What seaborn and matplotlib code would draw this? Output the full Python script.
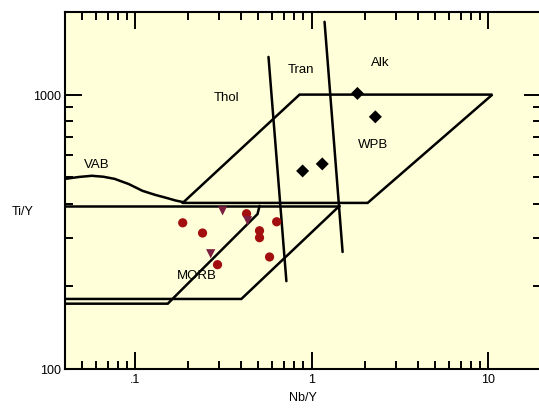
import numpy as np
import pandas as pd
import matplotlib
matplotlib.use("Agg")
import matplotlib.pyplot as plt
import matplotlib.ticker as mticker
import seaborn as sns

sns.set_style("ticks")
plt.rcParams["font.family"] = ["Liberation Sans", "DejaVu Sans"]
plt.rcParams["text.color"] = "black"
plt.rcParams["axes.labelcolor"] = "black"
plt.rcParams["xtick.color"] = "black"
plt.rcParams["ytick.color"] = "black"

# sample data (Nb/Y, Ti/Y)
morb_x = [0.186, 0.241, 0.428, 0.634, 0.507, 0.507, 0.578, 0.293]
morb_y = [341, 313, 368, 344, 319, 301, 256, 240]
tri_x = [0.313, 0.434, 0.268]
tri_y = [377, 347, 263]
wpb_x = [1.82, 2.30, 1.15, 0.89]
wpb_y = [1010, 830, 559, 527]

# field boundaries
vab_x = [0.04, 0.048, 0.0567, 0.066, 0.0765, 0.092, 0.110, 0.130, 0.151, 0.170, 0.186]
vab_y = [493, 501, 506, 502, 493, 472, 446, 431, 420, 411, 406]
wpb_box_x = [0.186, 0.855, 10.6, 2.08, 0.186]
wpb_box_y = [403, 1000, 1000, 403, 403]
base_x = [0.04, 1.44]
base_y = [393, 393]
morb_out_x = [0.04, 0.40, 1.44]
morb_out_y = [180, 180, 393]
morb_in_x = [0.04, 0.153, 0.494, 0.507]
morb_in_y = [173, 173, 367, 393]
thol_x = [0.57, 0.72]
thol_y = [1372, 209]
alk_x = [1.185, 1.50]
alk_y = [1842, 267]

labels = ["VAB", "Thol", "Tran", "Alk", "WPB", "MORB"]
label_x = [0.0605, 0.33, 0.866, 2.46, 2.22, 0.223]
label_y = [559, 981, 1241, 1315, 661, 220]

df = pd.DataFrame({
    "x": morb_x + tri_x + wpb_x,
    "y": morb_y + tri_y + wpb_y,
    "group": ["circle"] * len(morb_x) + ["tri"] * len(tri_x) + ["diamond"] * len(wpb_x),
})

fig = plt.figure(figsize=(5.39, 4.10), dpi=100)
ax = fig.add_axes([65 / 539, 40 / 410, 476 / 539, 357 / 410])
ax.set_facecolor("#ffffd9")

lw = 1.8
for xs, ys in [(vab_x, vab_y), (wpb_box_x, wpb_box_y), (base_x, base_y),
               (morb_out_x, morb_out_y), (morb_in_x, morb_in_y),
               (thol_x, thol_y), (alk_x, alk_y)]:
    sns.lineplot(x=xs, y=ys, ax=ax, color="black", lw=lw, sort=False,
                 estimator=None, solid_joinstyle="miter")

sns.scatterplot(data=df, x="x", y="y", hue="group", style="group",
                palette={"circle": "#a30e0e", "tri": "#7b1e40", "diamond": "black"},
                markers={"circle": "o", "tri": "v", "diamond": "D"},
                s=44, edgecolor="none", legend=False, ax=ax, zorder=3)

for t, lx, ly in zip(labels, label_x, label_y):
    ax.text(lx, ly, t, fontsize=9.5, ha="center", va="center", color="black")

ax.set_xscale("log")
ax.set_yscale("log")
ax.set_xlim(0.04, 20)
ax.set_ylim(100, 2000)

ax.xaxis.set_major_locator(mticker.FixedLocator([0.1, 1, 10]))
ax.xaxis.set_major_formatter(mticker.FixedFormatter([".1", "1", "10"]))
ax.xaxis.set_minor_locator(mticker.LogLocator(base=10, subs=np.arange(2, 10)))
ax.xaxis.set_minor_formatter(mticker.NullFormatter())
ax.yaxis.set_major_locator(mticker.FixedLocator([100, 1000]))
ax.yaxis.set_major_formatter(mticker.FixedFormatter(["100", "1000"]))
ax.yaxis.set_minor_locator(mticker.LogLocator(base=10, subs=np.arange(2, 10)))
ax.yaxis.set_minor_formatter(mticker.NullFormatter())

ax.tick_params(which="both", direction="in", top=True, right=True,
               color="black", width=1.4, labelsize=9, pad=3)
ax.tick_params(which="major", length=12)
ax.tick_params(which="minor", length=6)
for sp in ax.spines.values():
    sp.set_color("black")
    sp.set_linewidth(1.5)

ax.set_xlabel("Nb/Y", fontsize=9, labelpad=4)
ax.set_ylabel("Ti/Y", fontsize=9, rotation=0, ha="center", va="center")
ax.yaxis.set_label_coords(-0.09, 0.443)

fig.savefig("out.png", dpi=100, facecolor="white")
